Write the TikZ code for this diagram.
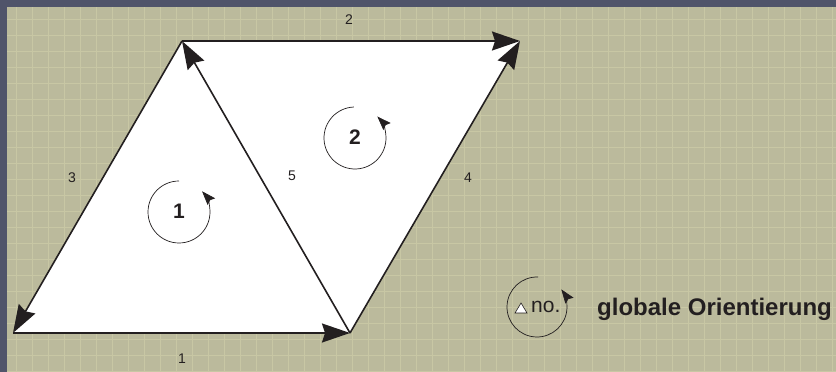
\documentclass[tikz,border=0pt]{standalone}
\usepackage{fontspec}
\setmainfont{Liberation Sans}
\usetikzlibrary{arrows.meta}
\definecolor{bgc}{HTML}{BBBA9C}
\definecolor{framec}{HTML}{50546A}
\definecolor{gridc}{HTML}{E2E0B4}
\definecolor{inkc}{HTML}{231F20}
\begin{document}
\begin{tikzpicture}[x=1pt,y=1pt,
  edge/.style={draw=inkc,line width=1.6pt,-{Stealth[length=28pt,width=19pt,inset=3pt]}},
  rot/.style={draw=inkc,line width=0.7pt,-{Stealth[length=14pt,width=10pt,inset=2pt]}},
  elabel/.style={text=inkc,font=\fontsize{14}{14}\selectfont,inner sep=0pt},
  clabel/.style={text=inkc,font=\fontsize{21}{21}\selectfont\bfseries,inner sep=0pt}]
\useasboundingbox (0,0) rectangle (836,372);
% background
\fill[bgc] (0,0) rectangle (836,372);
\draw[gridc,line width=1pt,opacity=0.35] (7,0) grid[step=16pt] (836,365);
\fill[framec] (0,365) rectangle (836,372);
\fill[framec] (0,0) rectangle (7,372);
% vertices
\coordinate (A) at (182,331);
\coordinate (B) at (520,331);
\coordinate (C) at (350,39);
\coordinate (D) at (13,39);
\fill[white] (A) -- (B) -- (C) -- (D) -- cycle;
% edges
\draw[edge] (D) -- (C);
\draw[edge] (A) -- (B);
\draw[edge] (A) -- (D);
\draw[edge] (C) -- (B);
\draw[edge] (C) -- (A);
% edge labels
\node[elabel] (l1) at (182,13) {1};
\node[elabel] (l2) at (349,352) {2};
\node[elabel] (l3) at (72,194) {3};
\node[elabel] (l4) at (468,194) {4};
\node[elabel] (l5) at (292,196) {5};
% element orientation
\node[clabel] (c1) at (179,161) {1};
\node[clabel] (c2) at (355,235) {2};
\draw[rot] ([shift={(90:31)}]179,160) arc[start angle=90,end angle=402,radius=31];
\draw[rot] ([shift={(92:31)}]355,234) arc[start angle=92,end angle=404,radius=31];
% legend
\coordinate (lc) at (537,65);
\draw[rot] ([shift={(88:30)}]lc) arc[start angle=88,end angle=396,radius=30];
\draw[inkc,fill=white,line width=0.6pt] (515,59) -- (527,59) -- (521,69) -- cycle;
\node[text=inkc,font=\fontsize{21}{21}\selectfont,inner sep=0pt,anchor=base west] (no) at (531,59) {no.};
\node[text=inkc,font=\fontsize{24}{24}\selectfont\bfseries,inner sep=0pt,anchor=base west] (leg) at (597,56) {globale Orientierung};
\end{tikzpicture}
\end{document}
